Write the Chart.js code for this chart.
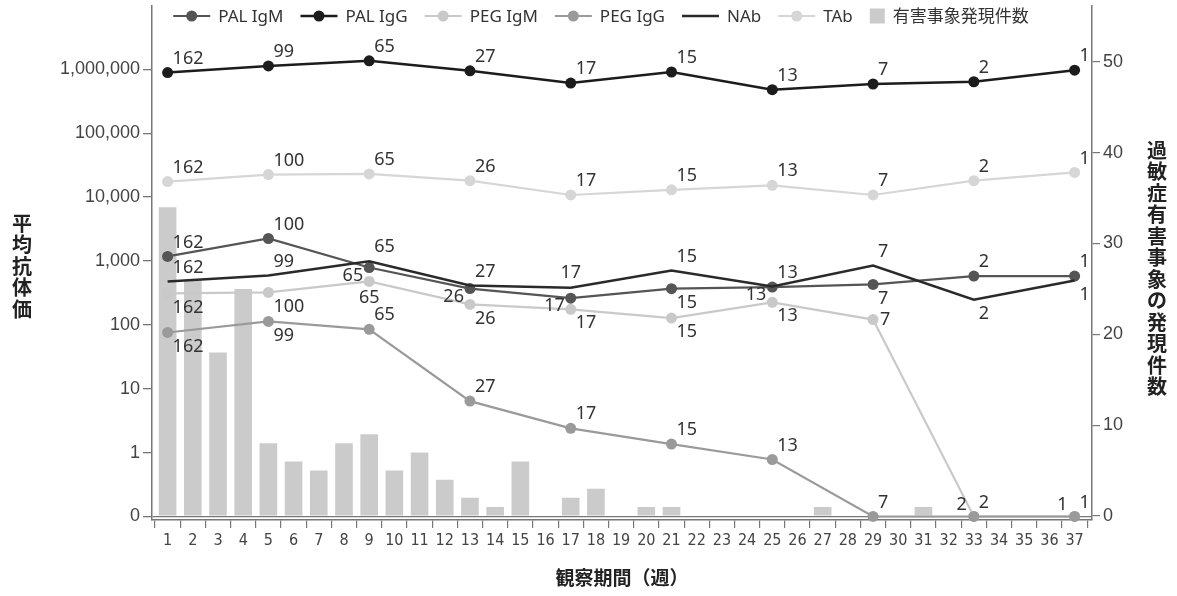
<!DOCTYPE html>
<html>
<head>
<meta charset="utf-8">
<script src="https://cdn.jsdelivr.net/npm/chart.js@4.4.1/dist/chart.umd.min.js"></script>
<style>
  html, body { margin: 0; padding: 0; background: #fff; }
</style>
</head>
<body>
<canvas id="myChart" width="1177" height="596"></canvas>
<script>
// week numbers on the x axis
const weekLabels = [1, 2, 3, 4, 5, 6, 7, 8, 9, 10, 11, 12, 13, 14, 15, 16, 17, 18, 19,
  20, 21, 22, 23, 24, 25, 26, 27, 28, 29, 30, 31, 32, 33, 34, 35, 36, 37];
// weeks where antibody titres were measured
const measureWeeks = [1, 5, 9, 13, 17, 21, 25, 29, 33, 37];

// mean antibody titres (left axis, log)
const palIgM = [1180, 2250, 790, 370, 262, 368, 390, 430, 580, 580];
const palIgG = [890000, 1130000, 1360000, 950000, 610000, 910000, 480000, 590000, 640000, 970000];
const pegIgM = [311, 322, 478, 209, 175, 128, 225, 121, 0, 0];
const pegIgG = [76, 113, 85, 6.4, 2.4, 1.36, 0.78, 0, 0, 0];
const nab = [478, 593, 990, 414, 381, 711, 400, 850, 248, 496];
const tab = [17500, 22500, 23100, 18100, 10800, 13000, 15300, 10800, 18100, 24400];

// number of subjects (labels next to the points)
const nPalIgM = [162, 100, 65, 26, 17, 15, 13, 7, 2, 1];
const nPalIgG = [162, 99, 65, 27, 17, 15, 13, 7, 2, 1];
const nPegIgM = [162, 100, 65, 26, 17, 15, 13, 7, 2, 1];
const nPegIgG = [162, 99, 65, 27, 17, 15, 13, 7, 2, 1];
const nNab = [162, 99, 65, 27, 17, 15, 13, 7, 2, 1];
const nTab = [162, 100, 65, 26, 17, 15, 13, 7, 2, 1];

// hypersensitivity adverse events per week (right axis)
const aeCounts = [34, 26, 18, 25, 8, 6, 5, 8, 9, 5, 7, 4, 2, 1, 6, 0, 2, 3, 0, 1,
  1, 0, 0, 0, 0, 0, 1, 0, 0, 0, 1, 0, 0, 0, 0, 0, 0];

const leftTicks = [0.1, 1, 10, 100, 1000, 10000, 100000, 1000000];
const rightTicks = [0, 10, 20, 30, 40, 50];
const ZERO_AT = 0.1; // "0" sits one decade below 1 on the log axis

// where each count label goes relative to its point
const posPalIgM = ['ar', 'ar', 'l', 'l', 'l', 'br', 'l', 'br', 'ar', 'ar'];
const posPalIgG = ['ar', 'ar', 'ar', 'ar', 'ar', 'ar', 'ar', 'ar', 'ar', 'ar'];
const posPegIgM = ['br', 'br', 'b', 'br', 'br', 'br', 'br', 'r', 'ar', 'ar'];
const posPegIgG = ['br', 'br', 'ar', 'ar', 'ar', 'ar', 'ar', 'ar', 'al', 'al'];
const posNab = ['ar', 'ar', 'ar', 'ar', 'a', 'ar', 'ar', 'ar', 'br', 'br'];
const posTab = ['ar', 'ar', 'ar', 'ar', 'ar', 'ar', 'ar', 'ar', 'ar', 'ar'];

const FONT = "'Noto Sans', 'Noto Sans CJK JP', sans-serif";
const NARROW = "'DejaVu Sans Condensed', 'Liberation Sans Narrow', 'Noto Sans', sans-serif";
const JP = "'Noto Sans CJK JP', 'Noto Sans', sans-serif";

function toPoints(values) {
  return measureWeeks.map((w, i) => ({ x: w, y: values[i] === 0 ? ZERO_AT : values[i] }));
}

function lineSet(label, values, counts, pos, color, width, radius, order) {
  return {
    type: 'line',
    label: label,
    data: toPoints(values),
    counts: counts,
    labelPos: pos,
    yAxisID: 'y',
    borderColor: color,
    backgroundColor: color,
    borderWidth: width,
    pointRadius: radius,
    pointBorderWidth: 0,
    pointHoverRadius: radius,
    tension: 0,
    clip: false,
    order: order
  };
}

// no label-overflow padding, so the plot runs to the canvas top like the original
function noPad(s) {
  s.paddingTop = 0;
  s.paddingBottom = 0;
  s.paddingLeft = 0;
  s.paddingRight = 0;
}

const offsets = {
  ar: [5, -14, 'left'],
  br: [5, 14, 'left'],
  r: [7, 0, 'left'],
  l: [-6, 8, 'right'],
  al: [-7, -12, 'right'],
  a: [0, -15, 'center'],
  b: [0, 16, 'center']
};

const pointLabels = {
  id: 'pointLabels',
  afterDatasetsDraw(chart) {
    const c = chart.ctx;
    c.save();
    c.font = '18px ' + FONT;
    c.fillStyle = '#333';
    c.textBaseline = 'middle';
    chart.data.datasets.forEach((ds, di) => {
      if (!ds.counts) return;
      chart.getDatasetMeta(di).data.forEach((pt, i) => {
        const o = offsets[ds.labelPos[i]];
        c.textAlign = o[2];
        c.fillText(String(ds.counts[i]), pt.x + o[0], pt.y + o[1]);
      });
    });
    c.restore();
  }
};

const topLegend = {
  id: 'topLegend',
  afterDraw(chart) {
    const c = chart.ctx;
    const items = chart.data.datasets;
    c.save();
    c.font = '17px ' + FONT;
    const widths = items.map(ds => (ds.type === 'bar' ? 15 : 37) + 8 + c.measureText(ds.label).width);
    const total = widths.reduce((a, b) => a + b, 0) + 17 * (items.length - 1);
    let x = 601 - total / 2;
    const y = 16;
    items.forEach(ds => {
      if (ds.type === 'bar') {
        c.fillStyle = ds.backgroundColor;
        c.fillRect(x, y - 7.5, 15, 15);
        x += 15;
      } else {
        c.strokeStyle = ds.borderColor;
        c.lineWidth = ds.borderWidth;
        c.beginPath();
        c.moveTo(x, y);
        c.lineTo(x + 37, y);
        c.stroke();
        if (ds.pointRadius > 0) {
          c.fillStyle = ds.borderColor;
          c.beginPath();
          c.arc(x + 18.5, y, 5.5, 0, Math.PI * 2);
          c.fill();
        }
        x += 37;
      }
      x += 8;
      c.fillStyle = '#333';
      c.textAlign = 'left';
      c.textBaseline = 'middle';
      c.fillText(ds.label, x, y + 1);
      x += c.measureText(ds.label).width + 17;
    });
    c.restore();
  }
};

// stacked (upright) Japanese axis titles
const sideTitles = {
  id: 'sideTitles',
  afterDraw(chart) {
    const c = chart.ctx;
    c.save();
    c.font = 'bold 20px ' + JP;
    c.fillStyle = '#222';
    c.textAlign = 'center';
    c.textBaseline = 'middle';
    Array.from('平均抗体価').forEach((ch, i) => c.fillText(ch, 22, 223 + i * 21.5));
    Array.from('過敏症有害事象の発現件数').forEach((ch, i) => c.fillText(ch, 1157, 150 + i * 21.5));
    c.restore();
  }
};

var ctx = document.getElementById('myChart').getContext('2d');
var myChart = new Chart(ctx, {
  data: {
    datasets: [
      lineSet('PAL IgM', palIgM, nPalIgM, posPalIgM, '#555555', 2.2, 5.5, 3),
      lineSet('PAL IgG', palIgG, nPalIgG, posPalIgG, '#1c1c1c', 2.5, 5.5, 1),
      lineSet('PEG IgM', pegIgM, nPegIgM, posPegIgM, '#c9c9c9', 2.2, 5.5, 5),
      lineSet('PEG IgG', pegIgG, nPegIgG, posPegIgG, '#9a9a9a', 2.2, 5.5, 4),
      lineSet('NAb', nab, nNab, posNab, '#2a2a2a', 2.5, 0, 2),
      lineSet('TAb', tab, nTab, posTab, '#d6d6d6', 2.2, 5.5, 6),
      {
        type: 'bar',
        label: '有害事象発現件数',
        data: weekLabels.map((w, i) => ({ x: w, y: aeCounts[i] })),
        yAxisID: 'y2',
        backgroundColor: '#cbcbcb',
        barPercentage: 0.7,
        categoryPercentage: 1,
        order: 10
      }
    ]
  },
  options: {
    responsive: false,
    devicePixelRatio: 1,
    animation: false,
    layout: { padding: 0 },
    plugins: {
      legend: { display: false },
      tooltip: { enabled: false }
    },
    scales: {
      x: {
        type: 'linear',
        min: 0.38,
        max: 37.69,
        offset: false,
        bounds: 'data',
        afterBuildTicks: s => { s.ticks = weekLabels.map(v => ({ value: v })); },
        afterFit: s => { s.height = 76; noPad(s); },
        ticks: { font: { family: NARROW, size: 16 }, color: '#444', padding: 3, autoSkip: false, maxRotation: 0 },
        grid: { drawOnChartArea: false, tickLength: 8, color: '#777', lineWidth: 1.2 },
        border: { color: '#777', width: 1.5 },
        title: {
          display: true,
          text: '観察期間（週）',
          font: { family: JP, size: 19, weight: 'bold' },
          color: '#222',
          padding: { top: 0, bottom: 7 }
        }
      },
      y: {
        type: 'logarithmic',
        position: 'left',
        min: 0.0881,
        max: 10000000,
        bounds: 'data',
        afterBuildTicks: s => { s.ticks = leftTicks.map(v => ({ value: v })); },
        afterFit: s => { s.width = 152; noPad(s); },
        ticks: {
          font: { size: 18 },
          color: '#444',
          padding: 3,
          callback: v => (v === ZERO_AT ? '0' : v.toLocaleString('en-US'))
        },
        grid: {
          color: c => (c.tick && c.tick.value === ZERO_AT ? '#777' : 'rgba(0,0,0,0)'),
          tickColor: '#777',
          tickLength: 9,
          lineWidth: 1.3
        },
        border: { color: '#777', width: 1.5 }
      },
      y2: {
        type: 'linear',
        position: 'right',
        min: -0.44,
        max: 56.2,
        bounds: 'data',
        afterBuildTicks: s => { s.ticks = rightTicks.map(v => ({ value: v })); },
        afterFit: s => { s.width = 85; noPad(s); },
        ticks: { font: { size: 18 }, color: '#444', padding: 3 },
        grid: { drawOnChartArea: false, tickLength: 8, color: '#777', lineWidth: 1.2 },
        border: { color: '#777', width: 1.5 }
      }
    }
  },
  plugins: [pointLabels, topLegend, sideTitles]
});
</script>
</body>
</html>
